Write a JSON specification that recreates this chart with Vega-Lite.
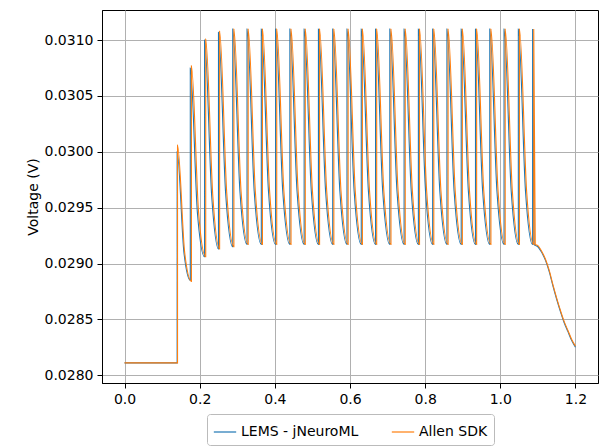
{
  "$schema": "https://vega.github.io/schema/vega-lite/v6.json",
  "width": 496,
  "height": 373,
  "padding": {"left": 26, "top": 10, "right": 10, "bottom": 5},
  "datasets": {
    "lems": [
      {"t":0,"v":0.02811},{"t":0.14,"v":0.02811},{"t":0.14,"v":0.03},{"t":0.158,"v":0.0291},{"t":0.175,"v":0.02885},
      {"t":0.175,"v":0.03075},{"t":0.194,"v":0.02945},{"t":0.213,"v":0.02906},
      {"t":0.213,"v":0.031},{"t":0.232,"v":0.0296},{"t":0.25,"v":0.02913},
      {"t":0.25,"v":0.03107},{"t":0.269,"v":0.02963},{"t":0.288,"v":0.02915},
      {"t":0.288,"v":0.0311},{"t":0.307,"v":0.02965},{"t":0.326,"v":0.02917},
      {"t":0.326,"v":0.0311},{"t":0.345,"v":0.02965},{"t":0.364,"v":0.02917},
      {"t":0.364,"v":0.0311},{"t":0.383,"v":0.02965},{"t":0.402,"v":0.02917},
      {"t":0.402,"v":0.0311},{"t":0.421,"v":0.02965},{"t":0.44,"v":0.02917},
      {"t":0.44,"v":0.0311},{"t":0.459,"v":0.02965},{"t":0.478,"v":0.02917},
      {"t":0.478,"v":0.0311},{"t":0.497,"v":0.02965},{"t":0.516,"v":0.02917},
      {"t":0.516,"v":0.0311},{"t":0.535,"v":0.02965},{"t":0.554,"v":0.02917},
      {"t":0.554,"v":0.0311},{"t":0.573,"v":0.02965},{"t":0.592,"v":0.02917},
      {"t":0.592,"v":0.0311},{"t":0.611,"v":0.02965},{"t":0.63,"v":0.02917},
      {"t":0.63,"v":0.0311},{"t":0.649,"v":0.02965},{"t":0.668,"v":0.02917},
      {"t":0.668,"v":0.0311},{"t":0.687,"v":0.02965},{"t":0.706,"v":0.02917},
      {"t":0.706,"v":0.0311},{"t":0.725,"v":0.02965},{"t":0.744,"v":0.02917},
      {"t":0.744,"v":0.0311},{"t":0.763,"v":0.02965},{"t":0.782,"v":0.02917},
      {"t":0.782,"v":0.0311},{"t":0.801,"v":0.02965},{"t":0.82,"v":0.02917},
      {"t":0.82,"v":0.0311},{"t":0.839,"v":0.02965},{"t":0.858,"v":0.02917},
      {"t":0.858,"v":0.0311},{"t":0.877,"v":0.02965},{"t":0.896,"v":0.02917},
      {"t":0.896,"v":0.0311},{"t":0.915,"v":0.02965},{"t":0.934,"v":0.02917},
      {"t":0.934,"v":0.0311},{"t":0.953,"v":0.02965},{"t":0.972,"v":0.02917},
      {"t":0.972,"v":0.0311},{"t":0.991,"v":0.02965},{"t":1.01,"v":0.02917},
      {"t":1.01,"v":0.0311},{"t":1.029,"v":0.02965},{"t":1.048,"v":0.02917},
      {"t":1.048,"v":0.0311},{"t":1.067,"v":0.02965},{"t":1.086,"v":0.02917},
      {"t":1.086,"v":0.0311},{"t":1.09,"v":0.02917},{"t":1.1,"v":0.02915},{"t":1.11,"v":0.0291},{"t":1.12,"v":0.02903},
      {"t":1.13,"v":0.02893},{"t":1.14,"v":0.0288},{"t":1.15,"v":0.02868},{"t":1.16,"v":0.02857},
      {"t":1.17,"v":0.02847},{"t":1.18,"v":0.02839},{"t":1.19,"v":0.02831},{"t":1.2,"v":0.02825}
    ],
    "sdk": [
      {"t":0,"v":0.02811},{"t":0.141,"v":0.02811},{"t":0.141,"v":0.03006},{"t":0.16,"v":0.0291},{"t":0.178,"v":0.02884},
      {"t":0.178,"v":0.03077},{"t":0.197,"v":0.02946},{"t":0.216,"v":0.02906},
      {"t":0.216,"v":0.03101},{"t":0.235,"v":0.0296},{"t":0.253,"v":0.02913},
      {"t":0.253,"v":0.03108},{"t":0.272,"v":0.02963},{"t":0.291,"v":0.02915},
      {"t":0.291,"v":0.0311},{"t":0.31,"v":0.02965},{"t":0.329,"v":0.02917},
      {"t":0.329,"v":0.0311},{"t":0.348,"v":0.02965},{"t":0.367,"v":0.02917},
      {"t":0.367,"v":0.0311},{"t":0.386,"v":0.02965},{"t":0.405,"v":0.02917},
      {"t":0.405,"v":0.0311},{"t":0.424,"v":0.02965},{"t":0.443,"v":0.02917},
      {"t":0.443,"v":0.0311},{"t":0.462,"v":0.02965},{"t":0.481,"v":0.02917},
      {"t":0.481,"v":0.0311},{"t":0.5,"v":0.02965},{"t":0.519,"v":0.02917},
      {"t":0.519,"v":0.0311},{"t":0.538,"v":0.02965},{"t":0.557,"v":0.02917},
      {"t":0.557,"v":0.0311},{"t":0.576,"v":0.02965},{"t":0.595,"v":0.02917},
      {"t":0.595,"v":0.0311},{"t":0.614,"v":0.02965},{"t":0.633,"v":0.02917},
      {"t":0.633,"v":0.0311},{"t":0.652,"v":0.02965},{"t":0.671,"v":0.02917},
      {"t":0.671,"v":0.0311},{"t":0.69,"v":0.02965},{"t":0.709,"v":0.02917},
      {"t":0.709,"v":0.0311},{"t":0.728,"v":0.02965},{"t":0.747,"v":0.02917},
      {"t":0.747,"v":0.0311},{"t":0.766,"v":0.02965},{"t":0.785,"v":0.02917},
      {"t":0.785,"v":0.0311},{"t":0.804,"v":0.02965},{"t":0.823,"v":0.02917},
      {"t":0.823,"v":0.0311},{"t":0.842,"v":0.02965},{"t":0.861,"v":0.02917},
      {"t":0.861,"v":0.0311},{"t":0.88,"v":0.02965},{"t":0.899,"v":0.02917},
      {"t":0.899,"v":0.0311},{"t":0.918,"v":0.02965},{"t":0.937,"v":0.02917},
      {"t":0.937,"v":0.0311},{"t":0.956,"v":0.02965},{"t":0.975,"v":0.02917},
      {"t":0.975,"v":0.0311},{"t":0.994,"v":0.02965},{"t":1.013,"v":0.02917},
      {"t":1.013,"v":0.0311},{"t":1.032,"v":0.02965},{"t":1.051,"v":0.02917},
      {"t":1.051,"v":0.0311},{"t":1.07,"v":0.02965},{"t":1.089,"v":0.02917},
      {"t":1.089,"v":0.0311},{"t":1.093,"v":0.02917},{"t":1.1,"v":0.02916},{"t":1.11,"v":0.02911},{"t":1.12,"v":0.02904},
      {"t":1.13,"v":0.02894},{"t":1.14,"v":0.02881},{"t":1.15,"v":0.02869},{"t":1.16,"v":0.02858},
      {"t":1.17,"v":0.02848},{"t":1.18,"v":0.0284},{"t":1.19,"v":0.02832},{"t":1.2,"v":0.02826}
    ]
  },
  "encoding": {
    "x": {
      "field": "t", "type": "quantitative", "title": null,
      "scale": {"domain": [-0.06, 1.26], "nice": false, "zero": false},
      "axis": {"values": [0, 0.2, 0.4, 0.6, 0.8, 1.0, 1.2], "format": ".1f"}
    },
    "y": {
      "field": "v", "type": "quantitative", "title": "Voltage (V)",
      "scale": {"domain": [0.02793, 0.03127], "nice": false, "zero": false},
      "axis": {"values": [0.028, 0.0285, 0.029, 0.0295, 0.03, 0.0305, 0.031], "format": ".4f"}
    },
    "order": {"field": "i", "type": "quantitative"},
    "color": {
      "field": "s", "type": "nominal", "title": null,
      "scale": {"domain": ["LEMS - jNeuroML", "Allen SDK"], "range": ["#1f77b4", "#ff7f0e"]},
      "legend": {
        "orient": "bottom", "direction": "horizontal", "symbolType": "stroke",
        "symbolSize": 500, "symbolStrokeWidth": 1.2, "columnPadding": 30,
        "labelFontSize": 14, "padding": 6, "strokeColor": "#bbbbbb",
        "fillColor": "white", "cornerRadius": 3, "offset": 8
      }
    }
  },
  "layer": [
    {
      "data": {"name": "lems"},
      "transform": [{"window": [{"op": "row_number", "as": "i"}]}, {"calculate": "'LEMS - jNeuroML'", "as": "s"}],
      "mark": {"type": "line", "strokeWidth": 1.1, "interpolate": "monotone"}
    },
    {
      "data": {"name": "sdk"},
      "transform": [{"window": [{"op": "row_number", "as": "i"}]}, {"calculate": "'Allen SDK'", "as": "s"}],
      "mark": {"type": "line", "strokeWidth": 1.1, "interpolate": "monotone"}
    }
  ],
  "config": {
    "font": "DejaVu Sans",
    "view": {"stroke": "black"},
    "legend": {"layout": {"bottom": {"anchor": "middle"}}},
    "axis": {
      "labelFontSize": 14, "titleFontSize": 14, "labelColor": "black", "titleColor": "black",
      "titleFontWeight": "normal", "domainColor": "black", "tickColor": "black",
      "gridColor": "#b0b0b0", "gridOpacity": 1, "labelPadding": 4
    }
  }
}
